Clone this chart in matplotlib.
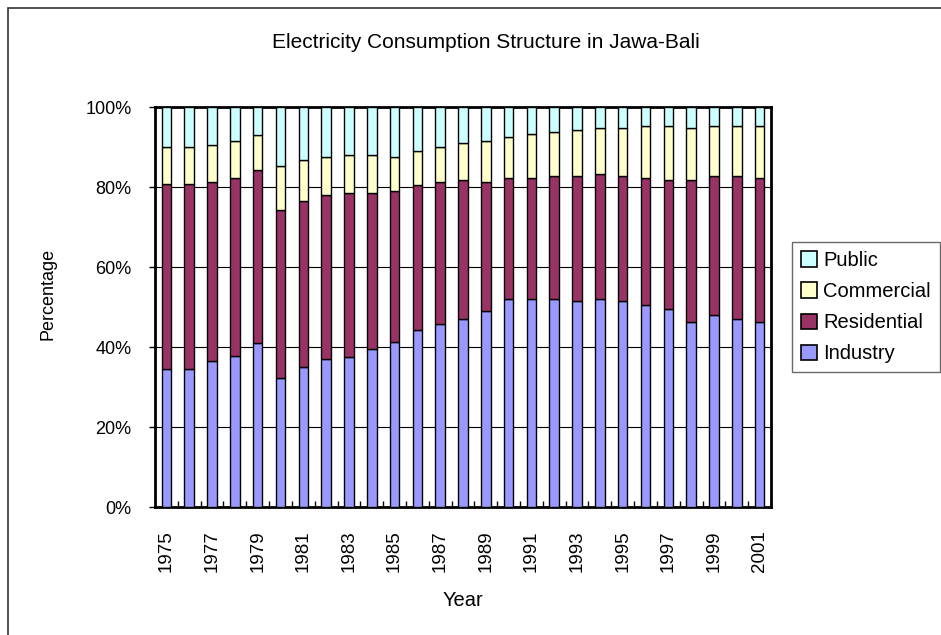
import matplotlib
matplotlib.use("Agg")
import matplotlib.pyplot as plt
import numpy as np
from matplotlib.patches import Rectangle, Patch
from matplotlib.ticker import FixedLocator, PercentFormatter

plt.rcParams["font.family"] = ["Liberation Sans", "DejaVu Sans"]

years = list(range(1975, 2002))
industry = [34.6, 34.6, 36.5, 37.8, 40.9, 32.2, 35.1, 36.9, 37.4, 39.4, 41.2, 44.2, 45.8, 47.1,
            48.9, 51.9, 51.9, 51.9, 51.4, 51.9, 51.4, 50.5, 49.5, 46.2, 48.1, 47.1, 46.2]
residential = [46.2, 46.2, 44.8, 44.5, 43.3, 42.0, 41.4, 41.1, 41.0, 39.0, 37.7, 36.3, 35.5, 34.6,
               32.3, 30.3, 30.3, 30.8, 31.3, 31.3, 31.3, 31.7, 32.2, 35.5, 34.6, 35.6, 36.0]
commercial = [9.2, 9.2, 9.1, 9.1, 8.7, 11.0, 10.2, 9.6, 9.7, 9.7, 8.7, 8.5, 8.7, 9.2,
              10.2, 10.2, 11.1, 11.0, 11.5, 11.5, 12.0, 13.0, 13.5, 13.0, 12.5, 12.5, 13.0]
public = [10.0, 10.0, 9.6, 8.6, 7.1, 14.8, 13.3, 12.4, 11.9, 11.9, 12.4, 11.0, 10.0, 9.1,
          8.6, 7.6, 6.7, 6.3, 5.8, 5.3, 5.3, 4.8, 4.8, 5.3, 4.8, 4.8, 4.8]

series = [
    ("Industry", industry, "#9999FF"),
    ("Residential", residential, "#993366"),
    ("Commercial", commercial, "#FFFFCC"),
    ("Public", public, "#CCFFFF"),
]

fig = plt.figure(figsize=(9.41, 6.35), dpi=100)
# chart-area border, cut off at the right and bottom edges like the original
fig.patches.append(Rectangle((8 / 941, -0.1), 1.2, 1 - 8 / 635 + 0.1, transform=fig.transFigure,
                             fill=False, edgecolor="#333333", linewidth=1.2))

ax = fig.add_axes([155 / 941, 1 - 507 / 635, 616 / 941, 400 / 635])
x = np.arange(len(years))
total = np.array(industry) + np.array(residential) + np.array(commercial) + np.array(public)
bottom = np.zeros(len(years))
handles = []
for name, vals, color in series:
    share = np.array(vals) / total * 100
    ax.bar(x, share, width=0.42, bottom=bottom, color=color, edgecolor="black", linewidth=1.0, zorder=3)
    bottom += share
    handles.append(Patch(facecolor=color, edgecolor="black", linewidth=1.2, label=name))

ax.set_xlim(-0.5, len(years) - 0.5)
ax.set_ylim(0, 100)
ax.yaxis.set_major_locator(FixedLocator([0, 20, 40, 60, 80, 100]))
ax.yaxis.set_major_formatter(PercentFormatter(decimals=0))
ax.grid(axis="y", color="black", linewidth=0.8, zorder=0)
ax.set_xticks(x[::2])
ax.set_xticklabels([str(y) for y in years[::2]], rotation=90)
ax.set_xticks(np.arange(len(years) + 1) - 0.5, minor=True)
ax.tick_params(axis="x", which="major", length=0, pad=17, labelsize=13.5)
ax.tick_params(axis="x", which="minor", direction="in", length=4, width=1)
ax.tick_params(axis="y", direction="out", length=4, width=1, pad=13, labelsize=13)
for s in ax.spines.values():
    s.set_linewidth(2)
    s.set_color("black")

fig.text(486 / 941, 1 - 43 / 635, "Electricity Consumption Structure in Jawa-Bali", ha="center", va="center", fontsize=15)
fig.text(48 / 941, 1 - 294 / 635, "Percentage", rotation=90, ha="center", va="center", fontsize=13)
fig.text(463 / 941, 1 - 600 / 635, "Year", ha="center", va="center", fontsize=14.5)

leg = fig.legend(handles=handles[::-1], loc="upper left", bbox_to_anchor=(792 / 941, 1 - 242 / 635),
                 fontsize=14.5, frameon=True, fancybox=False, edgecolor="#444444",
                 handlelength=0.8, handleheight=0.8, handletextpad=0.3, labelspacing=0.6,
                 borderpad=0.45, borderaxespad=0)
leg.get_frame().set_linewidth(1.0)

fig.savefig("out.png", dpi=100)
